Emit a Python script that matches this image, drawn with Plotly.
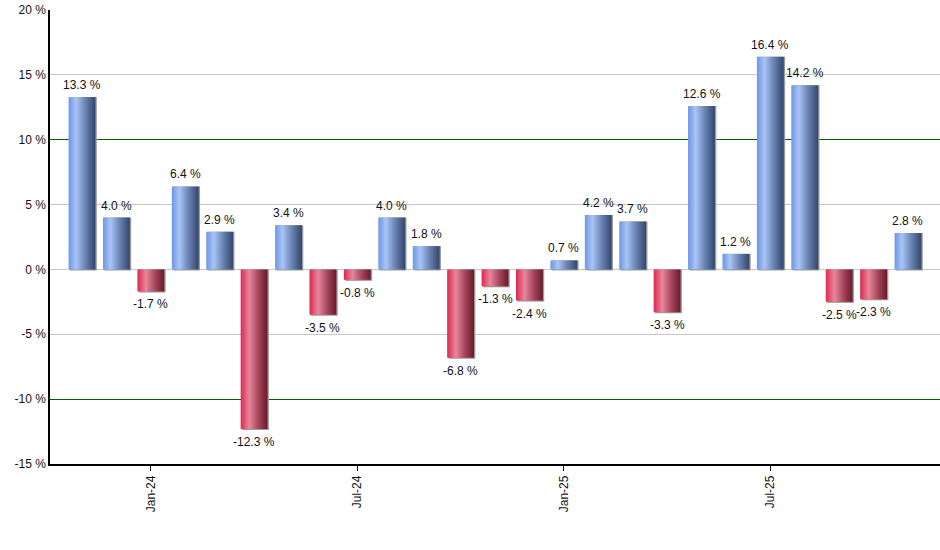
import plotly.graph_objects as go

months = ["Nov-23", "Dec-23", "Jan-24", "Feb-24", "Mar-24", "Apr-24", "May-24",
          "Jun-24", "Jul-24", "Aug-24", "Sep-24", "Oct-24", "Nov-24", "Dec-24",
          "Jan-25", "Feb-25", "Mar-25", "Apr-25", "May-25", "Jun-25", "Jul-25",
          "Aug-25", "Sep-25", "Oct-25", "Nov-25"]
returns = [13.3, 4.0, -1.7, 6.4, 2.9, -12.3, 3.4, -3.5, -0.8, 4.0, 1.8, -6.8,
           -1.3, -2.4, 0.7, 4.2, 3.7, -3.3, 12.6, 1.2, 16.4, 14.2, -2.5, -2.3, 2.8]
tick_labels = ["Jan-24", "Jul-24", "Jan-25", "Jul-25"]
y_ticks = [-15, -10, -5, 0, 5, 10, 15, 20]
green_lines = [-10, 10]

blue_scale = [[0, "#6d96e6"], [0.28, "#a9c4f6"], [0.6, "#6d87b8"], [1, "#32466c"]]
red_scale = [[0, "#dc2850"], [0.32, "#e8869b"], [0.65, "#a8485e"], [1, "#6a1828"]]

half = 0.39
fig = go.Figure()

for i, v in enumerate(returns):
    xs = [i - half, i + half, i + half, i - half, i - half]
    ys = [0, 0, v, v, 0]
    # thin grey shadow right/below
    fig.add_trace(go.Scatter(
        x=[x + 0.04 for x in xs], y=[y - 0.08 if y == min(0, v) else y for y in ys],
        fill="toself", fillcolor="#9a9a9a", mode="lines", line=dict(width=0),
        showlegend=False, hoverinfo="skip"
    ))
    fig.add_trace(go.Scatter(
        x=xs, y=ys, fill="toself", mode="lines", line=dict(width=0),
        fillgradient=dict(type="horizontal",
                          colorscale=blue_scale if v >= 0 else red_scale),
        showlegend=False, hoverinfo="skip"
    ))
    fig.add_annotation(
        x=i, y=v, text="%.1f %%" % v, showarrow=False,
        yanchor="bottom" if v >= 0 else "top",
        yshift=3 if v >= 0 else -4,
        font=dict(family="Liberation Sans, Arial", size=12, color="#111")
    )

fig.update_layout(
    width=940, height=550,
    plot_bgcolor="white", paper_bgcolor="white",
    font=dict(family="Liberation Sans, Arial", size=12, color="#111"),
    margin=dict(l=50, r=0, t=10, b=86, autoexpand=False),
    xaxis=dict(
        range=[-0.93, len(returns) - 0.07],
        tickvals=[months.index(m) for m in tick_labels], ticktext=tick_labels,
        tickangle=-90, ticks="outside", ticklen=5, tickcolor="black",
        showgrid=False, zeroline=False, showline=True, linecolor="black", linewidth=1.5
    ),
    # main axis: green lines at +/-10 as major grid, grey minor grid every 5
    yaxis=dict(
        range=[-15, 20], tickvals=green_lines, showticklabels=False,
        showgrid=True, gridcolor="#006000", gridwidth=1, zeroline=False,
        minor=dict(tickvals=y_ticks, showgrid=True, gridcolor="#c8c8c8", gridwidth=1),
        showline=True, linecolor="black", linewidth=1.5
    ),
    # overlay axis only for the tick labels
    yaxis2=dict(
        range=[-15, 20], tickvals=y_ticks, ticktext=["%d %%" % t for t in y_ticks],
        overlaying="y", side="left", anchor="x", showgrid=False, zeroline=False,
        ticklabeloverflow="allow",
        showline=True, linecolor="black", linewidth=1.5
    )
)
fig.add_trace(go.Scatter(x=[None], y=[None], yaxis="y2", showlegend=False,
                         hoverinfo="skip"))

fig.write_html("out.html", config={"displayModeBar": False},
               post_script="document.body.style.margin='0';")
